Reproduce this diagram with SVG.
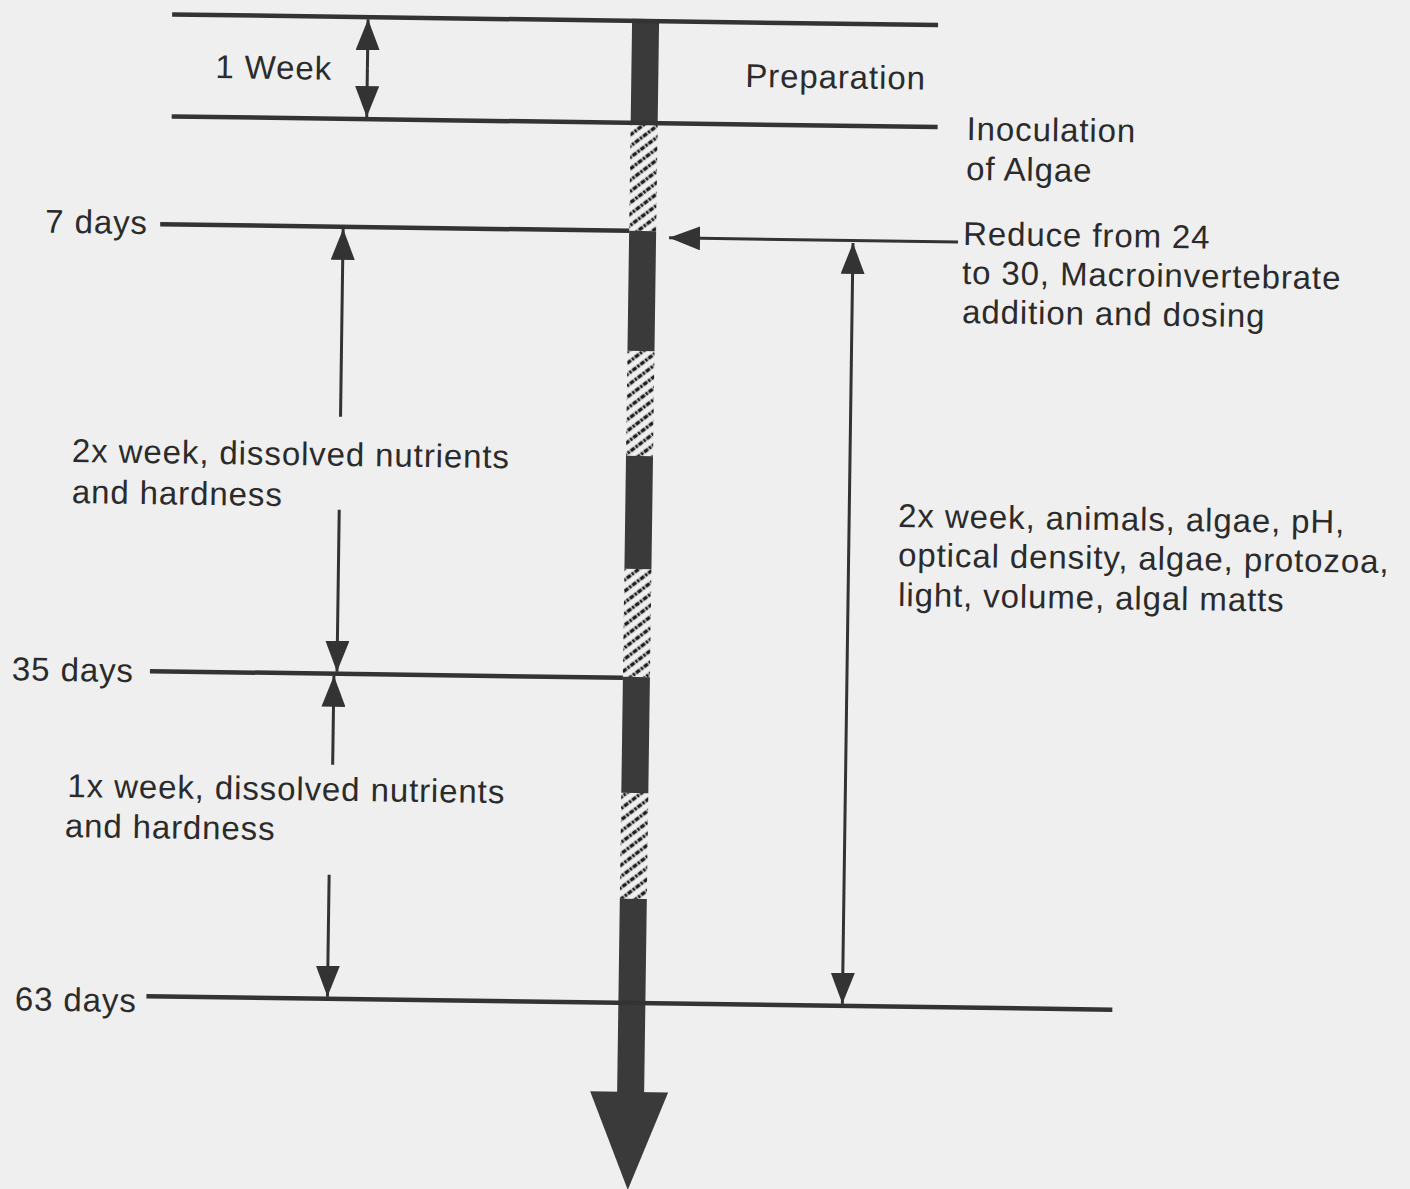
<svg xmlns="http://www.w3.org/2000/svg" width="1410" height="1189" viewBox="0 0 1410 1189">
  <style>
    .t { font-family: "Liberation Sans", Arial, Helvetica, sans-serif; font-size: 33px; letter-spacing: 0.9px; fill: #2b2b2b; }
    .hl { stroke: #333; stroke-width: 4.5; fill: none; stroke-linecap: butt; }
    .ar { stroke: #333; stroke-width: 3; fill: none; }
    .solid { fill: #3a3a3a; }
    .hatched { fill: url(#hatch); }
  </style>
  <defs>
    <pattern id="hatch" patternUnits="userSpaceOnUse" width="10" height="9" patternTransform="rotate(-38)">
      <line x1="0" y1="4.5" x2="10" y2="4.5" stroke="#1e1e1e" stroke-width="3.4" stroke-dasharray="2.6 1.2"/>
    </pattern>
    <marker id="ah" viewBox="0 0 31 24" markerUnits="userSpaceOnUse" markerWidth="31" markerHeight="24" refX="31" refY="12" orient="auto-start-reverse">
      <path d="M0,0 L31,12 L0,24 z" fill="#333"/>
    </marker>
  </defs>
  <rect x="0" y="0" width="1410" height="1189" fill="#efefef"/>
  <g transform="rotate(0.8 640 600)">
    <g id="timeline-bar">
      <rect class="solid" x="624" y="19" width="27" height="104"/>
      <rect class="hatched" x="624" y="123" width="27" height="108"/>
      <rect class="solid" x="624" y="231" width="27" height="120"/>
      <rect class="hatched" x="624" y="351" width="27" height="105"/>
      <rect class="solid" x="624" y="456" width="27" height="113"/>
      <rect class="hatched" x="624" y="569" width="27" height="108"/>
      <rect class="solid" x="624" y="677" width="27" height="116"/>
      <rect class="hatched" x="624" y="793" width="27" height="106"/>
      <rect class="solid" x="624" y="899" width="27" height="194"/>
      <path class="solid" d="M597,1092 L675,1092 L636,1190 z"/>
    </g>
    <g id="time-lines">
      <line class="hl" x1="164" y1="21" x2="930" y2="21"/>
      <line class="hl" x1="165" y1="123" x2="931" y2="123"/>
      <line class="hl" x1="155" y1="231" x2="624" y2="231"/>
      <line class="hl" x1="151" y1="678" x2="624" y2="678"/>
      <line class="hl" x1="152" y1="1003" x2="1118" y2="1003"/>
    </g>
    <g id="connectors">
      <line class="ar" x1="360" y1="72" x2="360" y2="23" marker-end="url(#ah)"/>
      <line class="ar" x1="360" y1="72" x2="360" y2="121" marker-end="url(#ah)"/>
      <line class="ar" x1="953" y1="237.5" x2="664" y2="237.5" marker-end="url(#ah)"/>
      <line class="ar" x1="848" y1="240" x2="848" y2="1001" marker-start="url(#ah)" marker-end="url(#ah)"/>
      <line class="ar" x1="338" y1="421" x2="338" y2="233" marker-end="url(#ah)"/>
      <line class="ar" x1="338" y1="514" x2="338" y2="676" marker-end="url(#ah)"/>
      <line class="ar" x1="335" y1="769" x2="335" y2="680" marker-end="url(#ah)"/>
      <line class="ar" x1="333" y1="879" x2="333" y2="1001" marker-end="url(#ah)"/>
    </g>
    <g id="label-1-week"><text class="t" x="208" y="84">1 Week</text></g>
    <g id="label-preparation"><text class="t" x="738" y="85.5">Preparation</text></g>
    <g id="label-inoculation"><text class="t" x="960" y="135.5">Inoculation</text><text class="t" x="960" y="175.5">of Algae</text></g>
    <g id="label-7-days"><text class="t" x="40" y="241">7 days</text></g>
    <g id="label-reduce"><text class="t" x="958" y="240.5">Reduce from 24</text><text class="t" x="957.5" y="279.5">to 30, Macroinvertebrate</text><text class="t" x="958" y="318.5">addition and dosing</text></g>
    <g id="label-2x-nutrients"><text class="t" x="70" y="470">2x week, dissolved nutrients</text><text class="t" x="70.5" y="511">and hardness</text></g>
    <g id="label-35-days"><text class="t" x="13" y="689">35 days</text></g>
    <g id="label-1x-nutrients"><text class="t" x="70" y="805">1x week, dissolved nutrients</text><text class="t" x="68" y="845">and hardness</text></g>
    <g id="label-63-days"><text class="t" x="20.5" y="1019">63 days</text></g>
    <g id="label-2x-animals"><text class="t" x="897" y="523.5">2x week, animals, algae, pH,</text><text class="t" x="897.5" y="562.5">optical density, algae, protozoa,</text><text class="t" x="898" y="602.5">light, volume, algal matts</text></g>
  </g>
</svg>
